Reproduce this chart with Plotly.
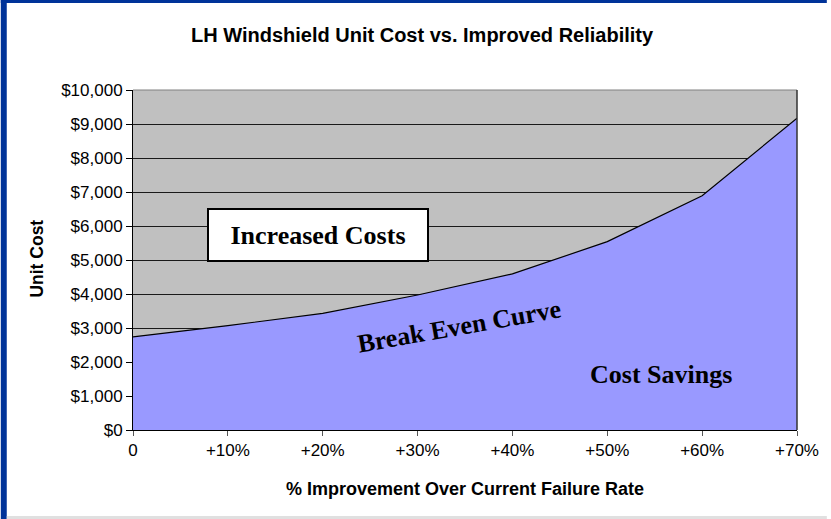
import plotly.graph_objects as go

# ---- data ----
improvement_pct = [0, 10, 20, 30, 40, 50, 60, 70]
tick_labels = ["0", "+10%", "+20%", "+30%", "+40%", "+50%", "+60%", "+70%"]
unit_cost = [2740, 3070, 3430, 3970, 4590, 5540, 6890, 9170]

W, H = 831, 519
L, R, T, B = 133, 801, 90, 430  # plot area pixel box


def px(x):
    return (x - L) / (R - L)


def py(y):
    return (B - y) / (B - T)


SANS = "Liberation Sans, Arial, sans-serif"
SERIF = "Liberation Serif, Times New Roman, serif"

fig = go.Figure()
fig.add_trace(go.Scatter(
    x=improvement_pct, y=unit_cost, mode="lines",
    fill="tozeroy", fillcolor="#9999FF",
    line=dict(color="black", width=1.2),
    hoverinfo="skip", showlegend=False,
))

fig.update_layout(
    width=W, height=H,
    margin=dict(l=L, r=W - R, t=T, b=H - B, pad=0),
    paper_bgcolor="white", plot_bgcolor="#C0C0C0",
    showlegend=False,
    xaxis=dict(
        range=[0, 70], tickvals=improvement_pct, ticktext=tick_labels,
        ticks="outside", ticklen=5, tickcolor="#555555",
        showgrid=False, zeroline=False,
        showline=True, linecolor="black", linewidth=1,
        tickfont=dict(family=SANS, size=17, color="black"),
    ),
    yaxis=dict(
        range=[0, 10000], dtick=1000, tickformat="$,",
        ticks="outside", ticklen=6, tickcolor="black",
        showgrid=True, gridcolor="#1a1a1a", gridwidth=1,
        zeroline=False,
        showline=True, linecolor="black", linewidth=1,
        tickfont=dict(family=SANS, size=17, color="black"),
    ),
)

shapes = [
    # plot area border (top/right)
    dict(type="line", xref="paper", yref="paper", x0=0, x1=1, y0=1, y1=1,
         line=dict(color="#808080", width=1)),
    dict(type="line", xref="paper", yref="paper", x0=1, x1=1, y0=0, y1=1,
         line=dict(color="#333333", width=1.5)),
    # blue frame
    dict(type="rect", xref="paper", yref="paper", x0=px(0), x1=px(6), y0=py(H), y1=py(0),
         fillcolor="#003399", line=dict(width=0), layer="above"),
    dict(type="rect", xref="paper", yref="paper", x0=px(0), x1=px(W), y0=py(3), y1=py(0),
         fillcolor="#003399", line=dict(width=0), layer="above"),
    dict(type="rect", xref="paper", yref="paper", x0=px(6), x1=px(W), y0=py(H), y1=py(516),
         fillcolor="#E0E0E0", line=dict(width=0), layer="above"),
]
fig.update_layout(shapes=shapes)

ann = [
    dict(text="<b>LH Windshield Unit Cost vs. Improved Reliability</b>",
         x=px(424), y=py(35), font=dict(family=SANS, size=20, color="black")),
    dict(text="<b>Unit Cost</b>", x=px(36), y=py(259), textangle=-90,
         font=dict(family=SANS, size=17.5, color="black")),
    dict(text="<b>% Improvement Over Current Failure Rate</b>", x=px(467), y=py(489),
         font=dict(family=SANS, size=18, color="black")),
    dict(text="<b>Increased Costs</b>", x=px(319), y=py(235),
         font=dict(family=SERIF, size=26, color="black"),
         bgcolor="white", bordercolor="black", borderwidth=2, borderpad=2,
         width=214, height=46),
    dict(text="<b>Break Even Curve</b>", x=px(461), y=py(326), textangle=-10,
         font=dict(family=SERIF, size=26, color="black")),
    dict(text="<b>Cost Savings</b>", x=px(664), y=py(374),
         font=dict(family=SERIF, size=26, color="black")),
]
for a in ann:
    a.update(xref="paper", yref="paper", showarrow=False, xanchor="center", yanchor="middle")
fig.update_layout(annotations=ann)

fig.write_html("out.html", config={"displayModeBar": False},
               post_script="document.body.style.margin='0';")
